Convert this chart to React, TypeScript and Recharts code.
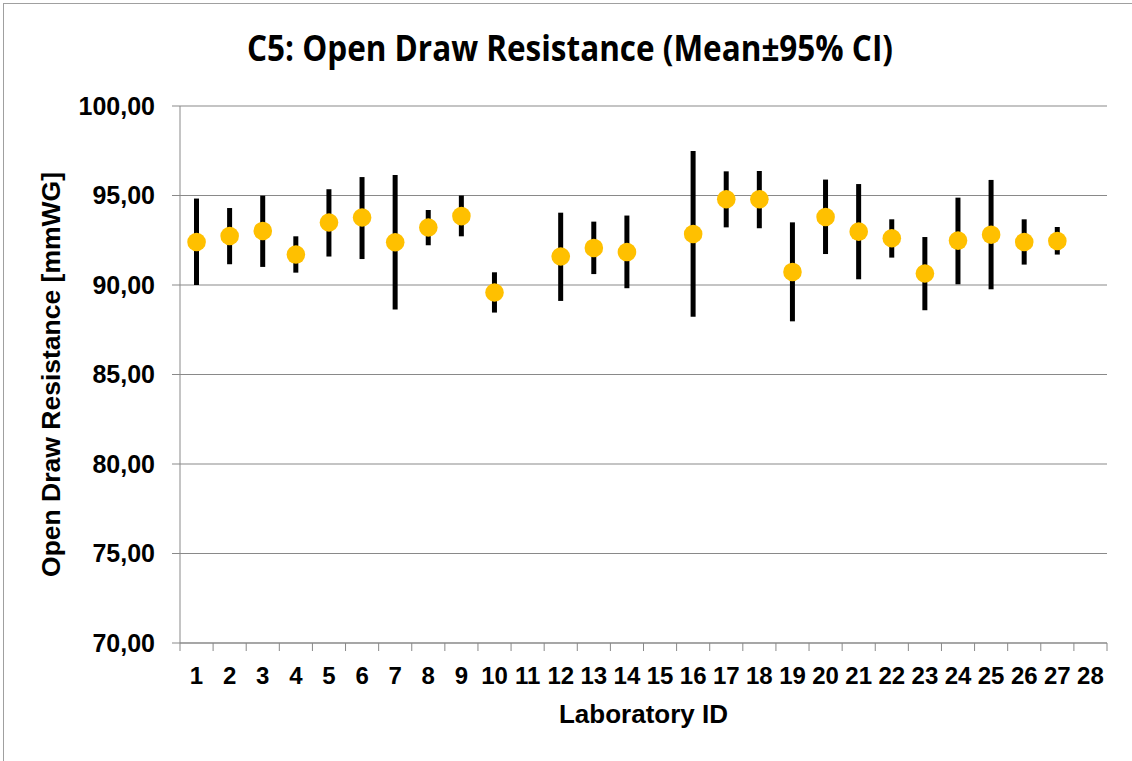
import React from "react";
import { ComposedChart, Bar, Line, XAxis, YAxis, CartesianGrid, Label } from "recharts";

const labs = ["1", "2", "3", "4", "5", "6", "7", "8", "9", "10", "11", "12", "13", "14", "15", "16", "17", "18", "19", "20", "21", "22", "23", "24", "25", "26", "27", "28"];
const means = [92.4, 92.74, 93.02, 91.7, 93.49, 93.77, 92.39, 93.21, 93.85, 89.58, null, 91.59, 92.07, 91.84, null, 92.85, 94.79, 94.79, 90.73, 93.8, 92.98, 92.61, 90.64, 92.48, 92.81, 92.4, 92.46, null];
const lower = [90.0, 91.16, 91.01, 90.69, 91.59, 91.45, 88.63, 92.22, 92.72, 88.46, null, 89.11, 90.61, 89.82, null, 88.23, 93.22, 93.17, 87.97, 91.73, 90.32, 91.53, 88.59, 90.04, 89.76, 91.14, 91.7, null];
const upper = [94.83, 94.3, 94.99, 92.72, 95.35, 96.03, 96.15, 94.19, 95.0, 90.71, null, 94.04, 93.54, 93.88, null, 97.49, 96.35, 96.37, 93.5, 95.89, 95.64, 93.67, 92.68, 94.88, 95.87, 93.67, 93.24, null];
const yTicks = [70, 75, 80, 85, 90, 95, 100];

const data = labs.map((lab, i) => ({
  lab,
  mean: means[i],
  ci: lower[i] != null && upper[i] != null ? [lower[i], upper[i]] : null,
}));

const W = 1132;
const H = 761;
const LEFT = 180;
const RIGHT = 25;
const BAND = (W - LEFT - RIGHT) / labs.length;
const GRAY = "#898989";

const XTick = (props: any) => {
  const { x, y, payload, index } = props;
  const last = index === labs.length - 1;
  return (
    <g>
      <line x1={x - BAND / 2} y1={y} x2={x - BAND / 2} y2={y + 8} stroke={GRAY} />
      {last && <line x1={x + BAND / 2} y1={y} x2={x + BAND / 2} y2={y + 8} stroke={GRAY} />}
      <text
        x={x}
        y={y + 41}
        textAnchor="middle"
        fill="#000"
        fontSize={24}
        fontWeight="bold"
        fontFamily="'Liberation Sans', Arial, sans-serif"
      >
        {payload.value}
      </text>
    </g>
  );
};

export default function App() {
  return (
    <div style={{ position: "absolute", left: 0, top: 0, width: W, height: H, background: "#fff" }}>
      <div
        style={{
          position: "absolute",
          left: 3,
          top: 3,
          width: W - 3,
          height: H - 3,
          borderTop: "1px solid #a0a0a0",
          borderLeft: "1px solid #a0a0a0",
        }}
      />
      <svg width={W} height={80} style={{ position: "absolute", left: 0, top: 0 }}>
        <text
          x={247}
          y={61}
          textLength={646}
          lengthAdjust="spacingAndGlyphs"
          fontSize={36}
          fontWeight="bold"
          fontFamily="'Open Sans', sans-serif"
          fill="#000"
        >
          C5: Open Draw Resistance (Mean±95% CI)
        </text>
      </svg>
      <div style={{ position: "absolute", left: 0, top: 0 }}>
        <ComposedChart width={W} height={H} data={data} margin={{ top: 106, right: RIGHT, bottom: 0, left: 0 }}>
          <CartesianGrid vertical={false} stroke={GRAY} />
          <XAxis
            dataKey="lab"
            interval={0}
            height={118}
            tickLine={false}
            tickSize={0}
            tickMargin={0}
            axisLine={{ stroke: GRAY }}
            tick={<XTick />}
          >
            <Label
              content={(p: any) => {
                const vb = p.viewBox;
                return (
                  <text
                    x={vb.x + vb.width / 2}
                    y={723}
                    textAnchor="middle"
                    fontSize={26}
                    fontWeight="bold"
                    fontFamily="'Liberation Sans', Arial, sans-serif"
                    fill="#000"
                  >
                    Laboratory ID
                  </text>
                );
              }}
            />
          </XAxis>
          <YAxis
            width={LEFT}
            domain={[70, 100]}
            ticks={yTicks}
            interval={0}
            tickSize={8}
            tickMargin={17}
            tickLine={{ stroke: GRAY }}
            axisLine={{ stroke: GRAY }}
            tickFormatter={(v: number) => v.toFixed(2).replace(".", ",")}
            tick={{
              fill: "#000",
              fontSize: 25,
              fontWeight: "bold",
              fontFamily: "'Liberation Sans', Arial, sans-serif",
            }}
          >
            <Label
              content={(p: any) => {
                const vb = p.viewBox;
                const cy = vb.y + vb.height / 2;
                return (
                  <text
                    x={60}
                    y={cy}
                    transform={`rotate(-90, 60, ${cy})`}
                    textAnchor="middle"
                    fontSize={26.5}
                    fontWeight="bold"
                    fontFamily="'Liberation Sans', Arial, sans-serif"
                    fill="#000"
                  >
                    Open Draw Resistance [mmWG]
                  </text>
                );
              }}
            />
          </YAxis>
          <Bar dataKey="ci" barSize={5} fill="#000" isAnimationActive={false} />
          <Line
            dataKey="mean"
            stroke="none"
            dot={{ r: 9.3, fill: "#FFC000", stroke: "none" }}
            activeDot={false}
            isAnimationActive={false}
          />
        </ComposedChart>
      </div>
    </div>
  );
}
